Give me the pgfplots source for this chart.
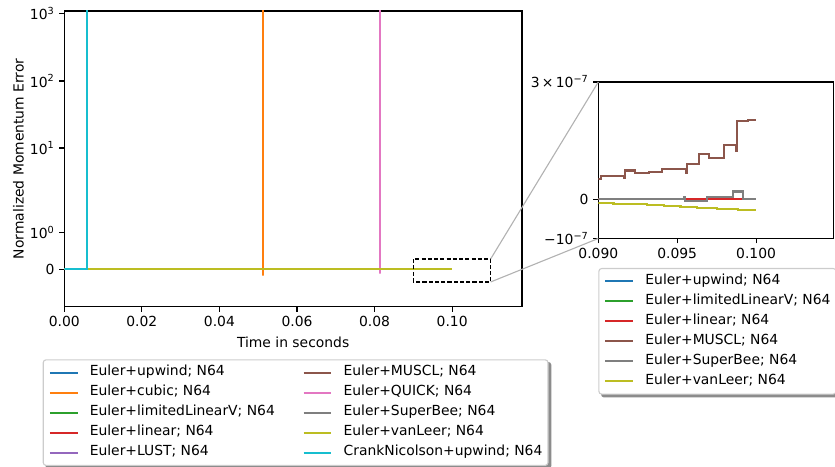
\documentclass[border=0pt]{standalone}
\usepackage{fontspec}
\setmainfont{DejaVu Sans}
\usepackage{pgfplots}
\pgfplotsset{compat=1.18}
\pgfdeclarelayer{background}
\pgfsetlayers{background,main}

\definecolor{c0}{HTML}{1F77B4}
\definecolor{c1}{HTML}{FF7F0E}
\definecolor{c2}{HTML}{2CA02C}
\definecolor{c3}{HTML}{D62728}
\definecolor{c4}{HTML}{9467BD}
\definecolor{c5}{HTML}{8C564B}
\definecolor{c6}{HTML}{E377C2}
\definecolor{c7}{HTML}{7F7F7F}
\definecolor{c8}{HTML}{BCBD22}
\definecolor{c9}{HTML}{17BECF}

\pgfplotsset{
  mpl/.style={
    scale only axis,
    axis line style={line width=0.8pt},
    tick style={line width=0.8pt, black},
    major tick length=3.5pt,
    tick align=outside,
    tick pos=left,
    scaled x ticks=false,
    scaled y ticks=false,
    every axis plot/.append style={line width=1.5pt},
    legend image code/.code={\draw[##1] (0pt,0pt) -- (20pt,0pt);},
    legend cell align=left,
    legend style={draw=black!20, line width=0.8pt, rounded corners=2pt, fill=white,
      inner xsep=4pt, inner ysep=2pt,
      nodes={inner xsep=0pt, inner ysep=2.95pt, text height=6.5pt, text depth=2pt, anchor=west},
      row sep=0pt, column sep=8pt,
      /tikz/every even column/.append style={column sep=20pt}},
  }
}

\begin{document}
\begin{tikzpicture}
\path[use as bounding box] (0pt,0pt) rectangle (601.2pt,-336.24pt);

% main axis
\begin{axis}[mpl,
  name=main,
  at={(46.3pt,-220.8pt)}, anchor=south west,
  width=329.5pt, height=212.9pt,
  xmin=0, xmax=0.118,
  ymin=-1, ymax=1107,
  y coord trafo/.code={\begingroup\pgfkeys{/pgf/fpu=true,/pgf/fpu/output format=fixed}\pgfmathparse{(#1>=2)*(1.1111+log10(max(#1,2)/2))+(#1<2)*0.5556*(#1)}\pgfmathsmuggle\pgfmathresult\endgroup},
  xtick={0,0.02,0.04,0.06,0.08,0.1},
  xticklabels={0.00,0.02,0.04,0.06,0.08,0.10},
  ytick={0,1,10,100,1000},
  yticklabels={0,10\textsuperscript{0},10\textsuperscript{1},10\textsuperscript{2},10\textsuperscript{3}},
  xlabel={Time in seconds},
  ylabel={Normalized Momentum Error},
  ylabel style={yshift=-2.5pt},
  legend columns=2,
  legend style={name=mainleg, at={(-0.0472,-0.1779)}, anchor=north west},
]
\addplot[c0, forget plot] coordinates {(0,0) (0.1,0)};
\addplot[c1, forget plot] coordinates {(0,0) (0.0512,0) (0.0512,-0.17) (0.0512,10000)};
\addplot[c2, forget plot] coordinates {(0,0) (0.1,0)};
\addplot[c3, forget plot] coordinates {(0,0) (0.1,0)};
\addplot[c4, forget plot] coordinates {(0,0) (0.00577,0) (0.00577,10000)};
\addplot[c5, forget plot] coordinates {(0,0) (0.1,0)};
\addplot[c6, forget plot] coordinates {(0,0) (0.0814,0) (0.0814,-0.11) (0.0814,10000)};
\addplot[c7, forget plot] coordinates {(0,0) (0.1,0)};
\addplot[c8, forget plot] coordinates {(0,0) (0.1,0)};
\addplot[c9, forget plot] coordinates {(0,0) (0.00577,0) (0.00577,10000)};

\addlegendimage{c0, line width=1.5pt}\addlegendentry{Euler+upwind; N64}
\addlegendimage{c5, line width=1.5pt}\addlegendentry{Euler+MUSCL; N64}
\addlegendimage{c1, line width=1.5pt}\addlegendentry{Euler+cubic; N64}
\addlegendimage{c6, line width=1.5pt}\addlegendentry{Euler+QUICK; N64}
\addlegendimage{c2, line width=1.5pt}\addlegendentry{Euler+limitedLinearV; N64}
\addlegendimage{c7, line width=1.5pt}\addlegendentry{Euler+SuperBee; N64}
\addlegendimage{c3, line width=1.5pt}\addlegendentry{Euler+linear; N64}
\addlegendimage{c8, line width=1.5pt}\addlegendentry{Euler+vanLeer; N64}
\addlegendimage{c4, line width=1.5pt}\addlegendentry{Euler+LUST; N64}
\addlegendimage{c9, line width=1.5pt}\addlegendentry{CrankNicolson+upwind; N64}

\draw[black, line width=0.8pt, dash pattern=on 3pt off 1.5pt]
  (rel axis cs:0.7625,0.0835) rectangle (rel axis cs:0.9316,0.1613);
\coordinate (zr1) at (rel axis cs:0.9316,0.1613);
\coordinate (zr2) at (rel axis cs:0.9316,0.0835);
\end{axis}

% inset axis
\begin{axis}[mpl,
  name=inset,
  at={(430.8pt,-171.7pt)}, anchor=south west,
  width=169.2pt, height=112.7pt,
  xmin=0.09, xmax=0.1049,
  ymin=-1e-7, ymax=3e-7,
  xtick={0.09,0.095,0.1},
  xticklabels={0.090,0.095,0.100},
  ytick={-1e-7,0,3e-7},
  yticklabels={−10\textsuperscript{−7},0,3\,×\,10\textsuperscript{−7}},
  legend columns=1,
  legend style={name=insetleg, at={(0,-0.1885)}, anchor=north west},
  const plot,
]
\addplot[c0] coordinates {(0.09,0) (0.1,0)};
\addlegendentry{Euler+upwind; N64}
\addplot[c2] coordinates {(0.09,0) (0.1,0)};
\addlegendentry{Euler+limitedLinearV; N64}
\addplot[c3] coordinates {(0.09,0) (0.1,0)};
\addlegendentry{Euler+linear; N64}
\addplot[c5] coordinates {
(0.09000,5.25e-8) (0.09015,5.93e-8) (0.09160,5.51e-8) (0.09170,7.37e-8)
(0.09234,6.69e-8) (0.09319,7.03e-8) (0.09404,7.71e-8) (0.09553,6.69e-8)
(0.09564,9.07e-8) (0.09638,1.161e-7) (0.09702,1.059e-7) (0.09798,1.398e-7)
(0.09872,1.229e-7) (0.09879,1.992e-7) (0.09947,2.017e-7) (0.10000,2.017e-7)};
\addlegendentry{Euler+MUSCL; N64}
\addplot[c7] coordinates {
(0.09000,1.7e-9) (0.09543,6e-9) (0.09550,-4e-9) (0.09691,7e-9)
(0.09851,2.0e-8) (0.09915,1.7e-9) (0.10000,1.7e-9)};
\addlegendentry{Euler+SuperBee; N64}
\addplot[c8] coordinates {
(0.09000,-8.5e-9) (0.09096,-1.1e-8) (0.09202,-1.27e-8) (0.09309,-1.44e-8)
(0.09415,-1.78e-8) (0.09521,-1.95e-8) (0.09628,-2.1e-8) (0.09755,-2.37e-8)
(0.09883,-2.8e-8) (0.10000,-2.8e-8)};
\addlegendentry{Euler+vanLeer; N64}
\end{axis}

\draw[black!30, line width=0.8pt] (zr1) -- (inset.north west);
\draw[black!30, line width=0.8pt] (zr2) -- (inset.south west);

\begin{pgfonlayer}{background}
\fill[black!45, rounded corners=2pt] ([shift={(2pt,-2pt)}]mainleg.south west) rectangle ([shift={(2pt,-2pt)}]mainleg.north east);
\fill[black!45, rounded corners=2pt] ([shift={(2pt,-2pt)}]insetleg.south west) rectangle ([shift={(2pt,-2pt)}]insetleg.north east);
\end{pgfonlayer}
\end{tikzpicture}
\end{document}
